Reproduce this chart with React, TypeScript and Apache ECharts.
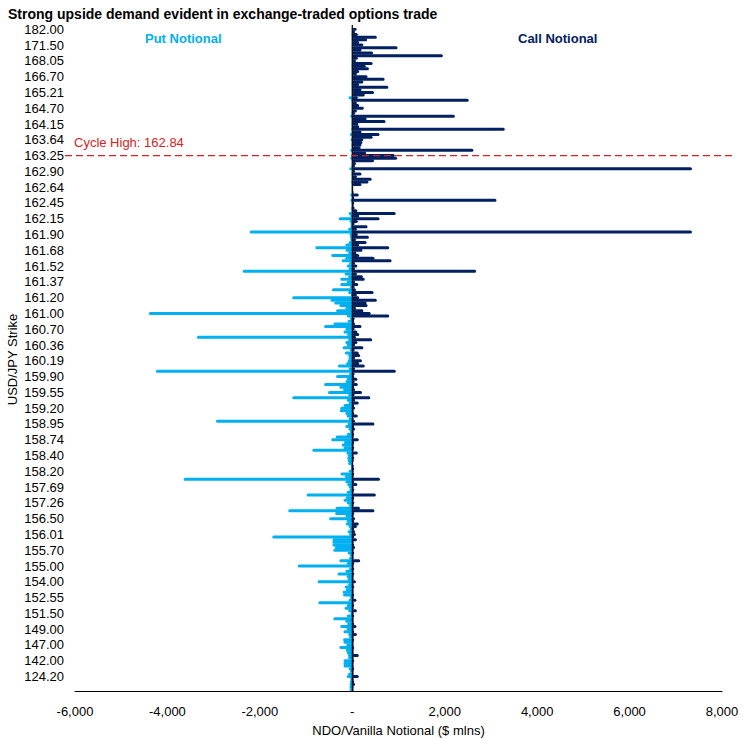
import React, { useEffect, useRef } from 'react';
import * as echarts from 'echarts';

// USD/JPY strikes, top (highest) to bottom; every 6th is labelled on the axis
const strikes: string[] = [
  '182.00', '180.00', '178.00', '176.00', '175.00', '173.00',
  '171.50', '170.50', '170.00', '169.50', '169.00', '168.50',
  '168.05', '167.80', '167.50', '167.25', '167.00', '166.85',
  '166.70', '166.50', '166.25', '166.00', '165.75', '165.50',
  '165.21', '165.10', '165.00', '164.95', '164.85', '164.80',
  '164.70', '164.60', '164.50', '164.40', '164.30', '164.25',
  '164.15', '164.05', '164.00', '163.90', '163.80', '163.75',
  '163.64', '163.60', '163.50', '163.45', '163.40', '163.30',
  '163.25', '163.20', '163.15', '163.10', '163.00', '162.95',
  '162.90', '162.85', '162.80', '162.75', '162.70', '162.68',
  '162.64', '162.60', '162.58', '162.55', '162.50', '162.48',
  '162.45', '162.40', '162.35', '162.30', '162.25', '162.20',
  '162.15', '162.10', '162.05', '162.00', '161.97', '161.95',
  '161.90', '161.85', '161.80', '161.78', '161.75', '161.70',
  '161.68', '161.65', '161.62', '161.60', '161.58', '161.55',
  '161.52', '161.50', '161.48', '161.45', '161.42', '161.40',
  '161.37', '161.35', '161.32', '161.30', '161.25', '161.22',
  '161.20', '161.15', '161.12', '161.10', '161.05', '161.02',
  '161.00', '160.95', '160.90', '160.85', '160.80', '160.75',
  '160.70', '160.65', '160.60', '160.50', '160.45', '160.40',
  '160.36', '160.33', '160.30', '160.27', '160.25', '160.22',
  '160.19', '160.15', '160.10', '160.05', '160.00', '159.95',
  '159.90', '159.85', '159.80', '159.75', '159.70', '159.60',
  '159.55', '159.50', '159.45', '159.40', '159.30', '159.25',
  '159.20', '159.15', '159.10', '159.05', '159.00', '158.98',
  '158.95', '158.90', '158.88', '158.85', '158.80', '158.77',
  '158.74', '158.70', '158.65', '158.60', '158.50', '158.45',
  '158.40', '158.35', '158.30', '158.28', '158.25', '158.22',
  '158.20', '158.10', '158.00', '157.90', '157.80', '157.75',
  '157.69', '157.60', '157.50', '157.45', '157.40', '157.30',
  '157.26', '157.20', '157.00', '156.90', '156.75', '156.60',
  '156.50', '156.40', '156.30', '156.25', '156.20', '156.10',
  '156.01', '156.00', '155.95', '155.90', '155.85', '155.80',
  '155.70', '155.60', '155.50', '155.40', '155.25', '155.10',
  '155.00', '154.80', '154.75', '154.50', '154.40', '154.25',
  '154.00', '153.75', '153.50', '153.25', '153.00', '152.75',
  '152.55', '152.50', '152.25', '152.00', '151.75', '151.60',
  '151.50', '151.25', '151.00', '150.75', '150.50', '150.00',
  '149.00', '148.75', '148.50', '148.25', '148.00', '147.50',
  '147.00', '146.50', '146.00', '145.50', '145.00', '144.00',
  '142.00', '141.00', '140.00', '138.00', '135.00', '130.00',
  '124.20', '123.00', '122.00', '120.00', '115.00', '110.00',
];

// Call notional ($ mlns)
const callNotional: number[] = [
  95, 60, 120, 530, 320, 150,
  240, 980, 200, 450, 1960, 120,
  80, 440, 290, 360, 150, 100,
  330, 700, 240, 150, 780, 200,
  470, 270, 120, 2520, 100, 150,
  250, 100, 60, 2220, 310, 720,
  130, 150, 3300, 200, 590, 440,
  240, 220, 200, 180, 2620, 300,
  920, 970, 470, 80, 60, 7350,
  60, 200, 100, 420, 350, 200,
  20, 20, 30, 140, 40, 3120,
  40, 30, 50, 110, 940, 150,
  590, 120, 50, 330, 100, 7350,
  120, 360, 80, 310, 150, 800,
  220, 90, 150, 480, 850, 60,
  110, 60, 2680, 100, 230, 270,
  60, 130, 50, 80, 460, 100,
  150, 530, 310, 330, 80, 240,
  400, 800, 50, 40, 60, 200,
  50, 110, 150, 80, 430, 110,
  60, 240, 50, 140, 170, 60,
  210, 150, 270, 60, 940, 50,
  40, 110, 50, 120, 40, 60,
  210, 50, 390, 60, 140, 40,
  60, 30, 40, 120, 30, 60,
  480, 40, 60, 30, 40, 30,
  140, 40, 30, 40, 30, 120,
  30, 40, 30, 20, 30, 40,
  30, 40, 30, 600, 40, 110,
  30, 40, 30, 510, 40, 30,
  40, 30, 165, 480, 40, 30,
  60, 40, 140, 100, 40, 60,
  80, 40, 100, 30, 40, 60,
  30, 40, 30, 30, 170, 40,
  30, 40, 30, 40, 30, 30,
  80, 30, 40, 30, 30, 40,
  30, 90, 30, 40, 30, 100,
  30, 40, 30, 30, 40, 90,
  30, 40, 100, 30, 40, 30,
  30, 40, 30, 30, 140, 30,
  40, 30, 30, 40, 30, 30,
  140, 30, 40, 60, 30, 30,
];

// Put notional ($ mlns, shown negative)
const putNotional: number[] = [
  -10, -10, -15, -10, -10, -10,
  -10, -15, -10, -10, -10, -10,
  -10, -10, -15, -10, -10, -10,
  -10, -10, -10, -15, -10, -10,
  -10, -10, -80, -20, -10, -10,
  -10, -10, -15, -40, -10, -10,
  -15, -10, -20, -10, -50, -10,
  -35, -10, -15, -10, -40, -10,
  -15, -40, -10, -10, -15, -65,
  -10, -15, -10, -10, -20, -10,
  -10, -15, -10, -40, -10, -40,
  -15, -10, -20, -15, -80, -40,
  -295, -60, -35, -40, -90, -2220,
  -60, -50, -40, -80, -150, -800,
  -145, -90, -455, -150, -230, -70,
  -120, -80, -2370, -165, -90, -260,
  -120, -260, -50, -440, -90, -30,
  -1300, -470, -390, -280, -150, -350,
  -4400, -120, -50, -100, -410, -610,
  -150, -190, -110, -3360, -90, -150,
  -120, -210, -50, -160, -90, -80,
  -100, -130, -310, -80, -4250, -70,
  -350, -120, -150, -610, -280, -200,
  -525, -90, -1300, -120, -80, -190,
  -260, -270, -150, -120, -80, -2950,
  -100, -150, -80, -50, -120, -360,
  -455, -180, -230, -190, -865, -130,
  -100, -110, -100, -90, -30, -30,
  -80, -255, -160, -3650, -150, -110,
  -80, -60, -120, -990, -140, -190,
  -120, -70, -360, -1385, -370, -150,
  -500, -120, -140, -80, -60, -100,
  -70, -1730, -430, -430, -430, -380,
  -410, -100, -50, -70, -280, -120,
  -1180, -70, -150, -320, -120, -100,
  -750, -90, -165, -140, -210, -200,
  -50, -80, -735, -120, -165, -90,
  -40, -120, -410, -150, -110, -260,
  -120, -190, -90, -70, -200, -190,
  -130, -280, -140, -120, -100, -90,
  -190, -190, -190, -80, -50, -90,
  -120, -40, -50, -60, -60, -60,
];

const xMin = -6000;
const xMax = 8000;
const xStep = 2000;
const cycleHighText = 'Cycle High: 162.84';
const cycleHighStrike = '163.25';

const FONT = '"Liberation Sans", Arial, sans-serif';
const PUT_COLOR = '#00B0F0';
const CALL_COLOR = '#002060';
const HIGH_COLOR = '#D42426';

export default function App() {
  const ref = useRef<HTMLDivElement>(null);

  useEffect(() => {
    const chart = echarts.init(ref.current!, null, { renderer: 'svg' });
    const gridTop = 28;
    const gridBottom = 47;
    chart.setOption({
      animation: false,
      backgroundColor: '#ffffff',
      textStyle: { fontFamily: FONT },
      title: {
        text: 'Strong upside demand evident in exchange-traded options trade',
        left: 3,
        top: 1,
        textStyle: { fontSize: 14, fontWeight: 'bold', color: '#000', fontFamily: FONT, lineHeight: 16 },
      },
      grid: {
        left: 75,
        right: 23,
        top: gridTop,
        bottom: gridBottom,
        containLabel: false,
        outerBoundsMode: 'none',
      },
      xAxis: {
        type: 'value',
        min: xMin,
        max: xMax,
        interval: xStep,
        splitLine: { show: false },
        axisTick: { show: false },
        axisLine: { show: true, lineStyle: { color: '#000', width: 1 } },
        axisLabel: {
          color: '#000',
          fontSize: 13,
          margin: 14,
          fontFamily: FONT,
          formatter: (v: number) => (v === 0 ? '-' : v.toLocaleString('en-US')),
        },
        name: 'NDO/Vanilla Notional ($ mlns)',
        nameLocation: 'middle',
        nameGap: 33,
        nameMoveOverlap: false,
        nameTextStyle: { color: '#000', fontSize: 13, fontFamily: FONT },
      },
      yAxis: {
        type: 'category',
        inverse: true,
        data: strikes,
        axisLine: { show: false },
        axisTick: { show: false },
        axisLabel: { interval: 5, color: '#000', fontSize: 13, margin: 11, fontFamily: FONT, lineHeight: 14 },
        name: 'USD/JPY Strike',
        nameLocation: 'middle',
        nameRotate: 90,
        nameGap: 56,
        nameMoveOverlap: false,
        nameTextStyle: { color: '#000', fontSize: 13, fontFamily: FONT },
      },
      series: [
        {
          name: 'Put Notional',
          type: 'bar',
          data: putNotional,
          barWidth: 3,
          barGap: '-100%',
          itemStyle: { color: PUT_COLOR, borderRadius: 1.5 },
        },
        {
          name: 'Call Notional',
          type: 'bar',
          data: callNotional,
          barWidth: 3,
          barGap: '-100%',
          itemStyle: { color: CALL_COLOR, borderRadius: 1.5 },
        },
      ],
    });

    const x0 = chart.convertToPixel({ xAxisIndex: 0 }, 0) as number;
    const yHigh = chart.convertToPixel({ yAxisIndex: 0 }, cycleHighStrike) as number;
    const xLeft = chart.convertToPixel({ xAxisIndex: 0 }, xMin) as number;
    const xRight = chart.convertToPixel({ xAxisIndex: 0 }, xMax) as number;
    const h = chart.getHeight();

    chart.setOption({
      graphic: [
        {
          type: 'line',
          z: 100,
          shape: { x1: x0, y1: gridTop - 3, x2: x0, y2: h - gridBottom },
          style: { stroke: '#000', lineWidth: 1.2 },
        },
        {
          type: 'line',
          z: 101,
          shape: { x1: xLeft - 10, y1: yHigh, x2: xRight + 10, y2: yHigh },
          style: { stroke: HIGH_COLOR, lineWidth: 1.3, lineDash: [7, 4] },
        },
        {
          type: 'text',
          z: 101,
          x: xLeft - 1,
          y: yHigh - 7,
          style: {
            text: cycleHighText,
            fill: HIGH_COLOR,
            fontSize: 13,
            fontFamily: FONT,
            textVerticalAlign: 'bottom',
          },
        },
        {
          type: 'text',
          z: 101,
          x: 145,
          y: 38,
          style: {
            text: 'Put Notional',
            fill: PUT_COLOR,
            fontSize: 13,
            fontWeight: 'bold',
            fontFamily: FONT,
            textVerticalAlign: 'middle',
          },
        },
        {
          type: 'text',
          z: 101,
          x: 518,
          y: 38,
          style: {
            text: 'Call Notional',
            fill: CALL_COLOR,
            fontSize: 13,
            fontWeight: 'bold',
            fontFamily: FONT,
            textVerticalAlign: 'middle',
          },
        },
      ],
    });

    return () => chart.dispose();
  }, []);

  return (
    <div
      ref={ref}
      style={{ position: 'fixed', left: 0, top: 0, width: 745, height: 738, background: '#fff' }}
    />
  );
}
